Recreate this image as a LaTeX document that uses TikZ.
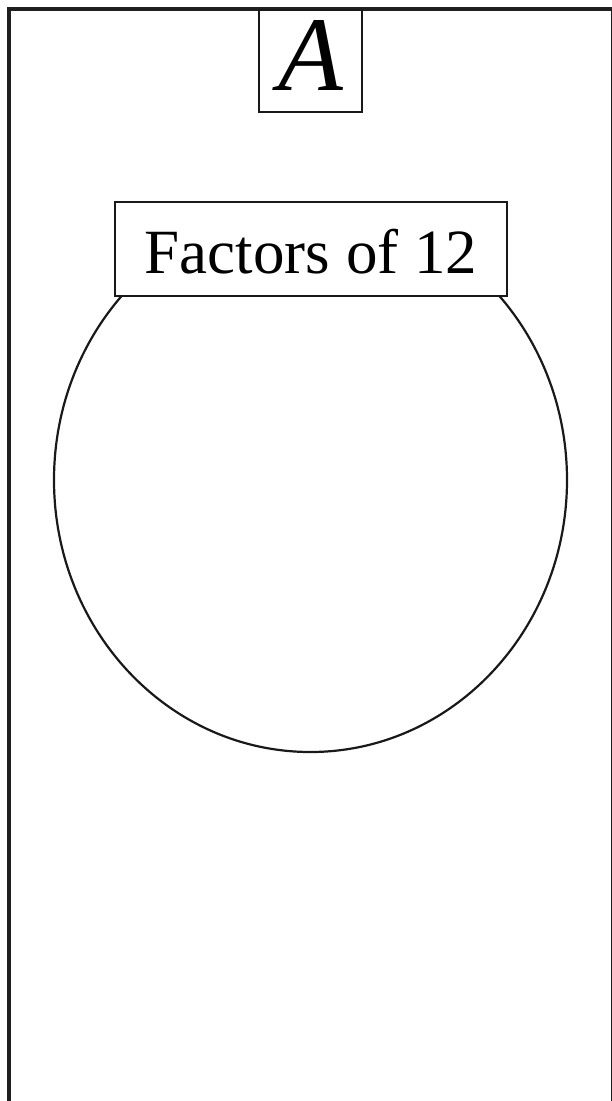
\documentclass[tikz,border=0pt]{standalone}
\usepackage{fontspec}
\setmainfont{Liberation Serif}
\usetikzlibrary{shapes.geometric}
\begin{document}
\begin{tikzpicture}[x=1pt,y=-1pt,
  frame/.style={draw=black!88,line width=4.4pt,inner sep=0pt},
  setshape/.style={draw=black!90,line width=2.2pt,ellipse,inner sep=0pt,minimum width=513pt,minimum height=544pt},
  labelbox/.style={draw=black!90,fill=white,line width=2.2pt,inner sep=0pt}]
\useasboundingbox (0,0) rectangle (611,1101);
\node[frame,minimum width=604.5pt,minimum height=1094.5pt] (U) at (311.25,556.25) {};
\node[setshape] (S) at (310.5,480) {};
\node[labelbox,minimum width=392pt,minimum height=94pt,text height=48pt,text depth=0pt,font=\fontsize{63}{70}\selectfont] (F) at (311,249) {Factors of 12};
\node[labelbox,minimum width=103pt,minimum height=102pt,text height=58pt,text depth=0pt,font=\fontsize{106}{110}\selectfont\itshape] (A) at (310.5,61) {A};
\end{tikzpicture}
\end{document}
